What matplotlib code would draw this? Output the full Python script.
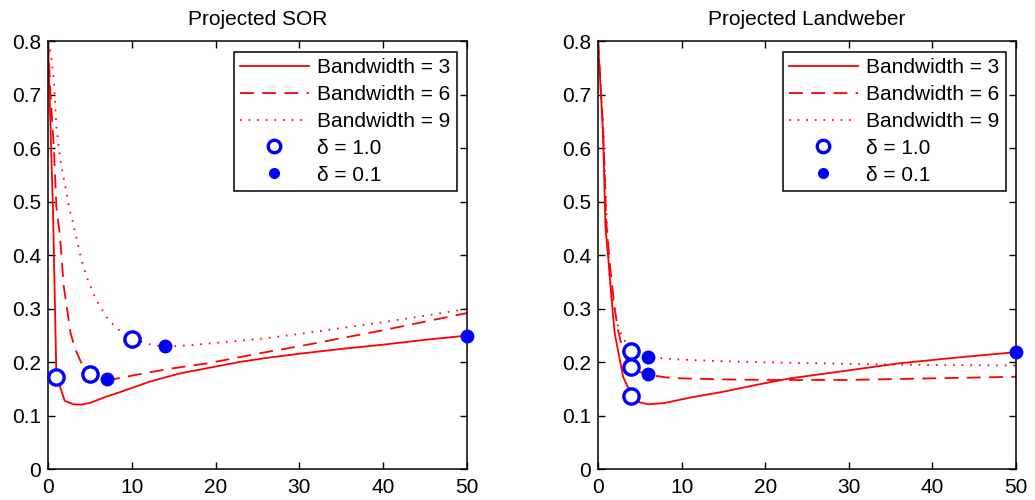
import matplotlib
matplotlib.use("Agg")
import matplotlib.pyplot as plt
from matplotlib.lines import Line2D

plt.rcParams['font.family'] = ['Liberation Sans', 'DejaVu Sans']
plt.rcParams['lines.scale_dashes'] = False

# ---------------- data ----------------
titles = ["Projected SOR", "Projected Landweber"]
legend_labels = ["Bandwidth = 3", "Bandwidth = 6", "Bandwidth = 9", "δ = 1.0", "δ = 0.1"]
xticks = [0, 10, 20, 30, 40, 50]
yticks = [0, 0.1, 0.2, 0.3, 0.4, 0.5, 0.6, 0.7, 0.8]

# Projected SOR
sor_bw3_x = [0, 0.6, 1, 2, 3, 4, 5, 6, 7, 8, 10, 12, 14, 16, 18, 20, 23, 26, 30, 35, 40, 45, 50]
sor_bw3_y = [0.80, 0.48, 0.175, 0.128, 0.1215, 0.121, 0.124, 0.130, 0.136, 0.141, 0.152, 0.163,
             0.172, 0.180, 0.186, 0.192, 0.201, 0.208, 0.216, 0.225, 0.233, 0.242, 0.250]
sor_bw6_x = [0, 0.3, 0.7, 1, 1.4, 1.9, 2.7, 3.3, 4, 4.5, 5, 6, 7, 8, 10, 12, 15, 19, 22, 26,
             30, 35, 40, 45, 50]
sor_bw6_y = [0.80, 0.70, 0.60, 0.49, 0.44, 0.34, 0.254, 0.223, 0.198, 0.189, 0.178, 0.172, 0.169,
             0.169, 0.175, 0.181, 0.189, 0.198, 0.207, 0.219, 0.230, 0.245, 0.260, 0.276, 0.292]
sor_bw9_x = [0, 0.3, 0.7, 1, 1.5, 2, 2.5, 3, 3.5, 4, 4.6, 5.4, 6, 7, 8, 9, 10, 12, 14, 17, 22,
             26, 30, 35, 40, 45, 50]
sor_bw9_y = [0.80, 0.78, 0.73, 0.64, 0.575, 0.535, 0.49, 0.46, 0.425, 0.391, 0.36, 0.329, 0.31,
             0.284, 0.267, 0.253, 0.244, 0.234, 0.229, 0.232, 0.239, 0.245, 0.253, 0.264, 0.275,
             0.287, 0.300]
sor_d10_x = [1, 5, 10]
sor_d10_y = [0.173, 0.178, 0.244]
sor_d01_x = [50, 7, 14]
sor_d01_y = [0.250, 0.169, 0.230]

# Projected Landweber
lw_bw3_x = [0, 0.6, 0.9, 1.2, 1.6, 2, 3, 4, 5, 6, 8, 11, 15, 19, 23, 30, 36, 43, 50]
lw_bw3_y = [0.80, 0.63, 0.45, 0.40, 0.323, 0.254, 0.173, 0.139, 0.125, 0.1215, 0.124, 0.134,
            0.145, 0.158, 0.170, 0.185, 0.198, 0.209, 0.219]
lw_bw6_x = [0, 0.6, 1, 1.5, 2, 2.4, 3, 3.4, 4, 5, 6, 8, 10, 15, 20, 30, 40, 50]
lw_bw6_y = [0.80, 0.64, 0.46, 0.37, 0.30, 0.26, 0.22, 0.205, 0.192, 0.182, 0.177, 0.172, 0.170,
            0.168, 0.167, 0.167, 0.170, 0.173]
lw_bw9_x = [0, 0.6, 1, 1.4, 2, 2.4, 3, 4, 5, 6, 8, 10, 15, 20, 30, 40, 50]
lw_bw9_y = [0.80, 0.65, 0.48, 0.354, 0.30, 0.267, 0.245, 0.221, 0.214, 0.210, 0.207, 0.205,
            0.202, 0.200, 0.197, 0.195, 0.194]
lw_d10_x = [4, 4, 4]
lw_d10_y = [0.137, 0.192, 0.221]
lw_d01_x = [50, 6, 6]
lw_d01_y = [0.219, 0.178, 0.210]

panels = [
    (sor_bw3_x, sor_bw3_y, sor_bw6_x, sor_bw6_y, sor_bw9_x, sor_bw9_y,
     sor_d10_x, sor_d10_y, sor_d01_x, sor_d01_y),
    (lw_bw3_x, lw_bw3_y, lw_bw6_x, lw_bw6_y, lw_bw9_x, lw_bw9_y,
     lw_d10_x, lw_d10_y, lw_d01_x, lw_d01_y),
]

# ---------------- styles ----------------
RED = (1, 0, 0)
BLUE = (0, 0, 1)
FS = 15
LW = 1.3
DASH = (0, (10, 6))
DOT = (0, (1.2, 5))

fig = plt.figure(figsize=(10.35, 5.0), dpi=100)
ax_rects = [[48 / 1035, 0.0614, 419 / 1035, 0.856],
            [598 / 1035, 0.0614, 418 / 1035, 0.856]]

for rect, title, data in zip(ax_rects, titles, panels):
    b3x, b3y, b6x, b6y, b9x, b9y, d1x, d1y, d0x, d0y = data
    ax = fig.add_axes(rect)
    ax.plot(b3x, b3y, color=RED, lw=LW, linestyle='-')
    ax.plot(b6x, b6y, color=RED, lw=LW, linestyle=DASH)
    ax.plot(b9x, b9y, color=RED, lw=LW, linestyle=DOT)
    ax.plot(d1x, d1y, linestyle='none', marker='o', markersize=11, markerfacecolor='white',
            markeredgecolor=BLUE, markeredgewidth=2.4, clip_on=False, zorder=5)
    ax.plot(d0x, d0y, linestyle='none', marker='o', markersize=10, markerfacecolor=BLUE,
            markeredgecolor=BLUE, markeredgewidth=0, clip_on=False, zorder=5)

    ax.set_xlim(0, 50)
    ax.set_ylim(0, 0.8)
    ax.set_xticks(xticks)
    ax.set_yticks(yticks)
    ax.set_xticklabels([str(t) for t in xticks])
    ax.set_yticklabels(["0" if t == 0 else f"{t:g}" for t in yticks])
    ax.tick_params(direction='in', length=5, width=1, top=True, right=True,
                   labelsize=FS)
    ax.tick_params(axis='x', pad=6)
    ax.tick_params(axis='y', pad=5)
    for s in ax.spines.values():
        s.set_linewidth(1.1)
    ax.set_title(title, fontsize=FS, pad=12)

    handles = [
        Line2D([], [], color=RED, lw=LW, linestyle='-'),
        Line2D([], [], color=RED, lw=LW, linestyle=DASH),
        Line2D([], [], color=RED, lw=LW, linestyle=DOT),
        Line2D([], [], linestyle='none', marker='o', markersize=9, markerfacecolor='white',
               markeredgecolor=BLUE, markeredgewidth=2.4),
        Line2D([], [], linestyle='none', marker='o', markersize=8, markerfacecolor=BLUE,
               markeredgecolor=BLUE, markeredgewidth=0),
    ]
    leg = ax.legend(handles, legend_labels, loc='upper right', fontsize=FS,
                    frameon=True, fancybox=False, framealpha=1, edgecolor='black',
                    borderaxespad=0.5, handlelength=3.3, handletextpad=0.4,
                    labelspacing=0.38, borderpad=0.3)
    leg.get_frame().set_linewidth(1.1)

fig.savefig("out.png", dpi=100)
